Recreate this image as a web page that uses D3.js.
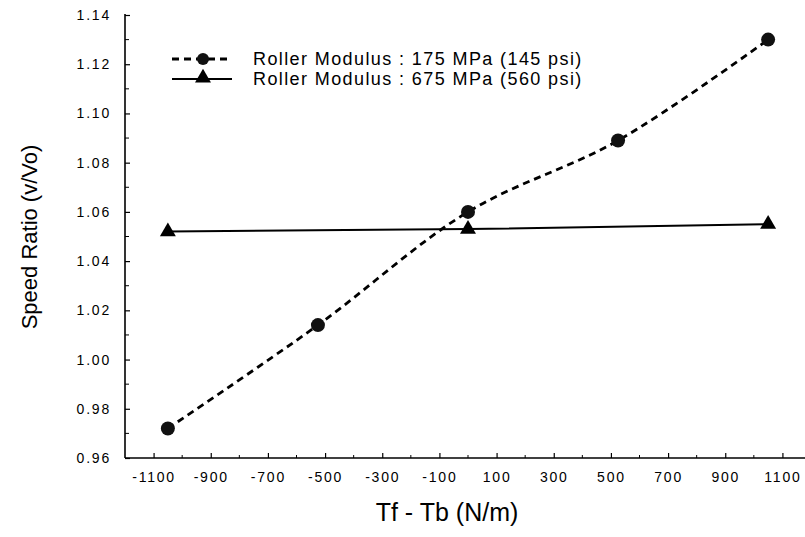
<!DOCTYPE html>
<html>
<head>
<meta charset="utf-8">
<script src="https://cdn.jsdelivr.net/npm/d3@7"></script>
<style>
  body { margin: 0; background: #fff; }
  svg { display: block; font-family: "Liberation Sans", Arial, sans-serif; }
  .tick text { font-size: 14px; fill: #000; letter-spacing: 1.8px; }
</style>
</head>
<body>
<svg id="chart" width="805" height="537"></svg>
<script>
// ---------- data ----------
const tensionDiff = [-1050, -525, 0, 525, 1050];
const ratioSoft = [0.972, 1.014, 1.060, 1.089, 1.130];      // 175 MPa roller
const tensionDiffStiff = [-1050, 0, 1050];
const ratioStiff = [1.052, 1.053, 1.055];                     // 675 MPa roller
const xTicks = [-1100, -900, -700, -500, -300, -100, 100, 300, 500, 700, 900, 1100];
const yTicks = [0.96, 0.98, 1.00, 1.02, 1.04, 1.06, 1.08, 1.10, 1.12, 1.14];
const legendLabels = [
  "Roller Modulus : 175 MPa (145 psi)",
  "Roller Modulus : 675 MPa (560 psi)"
];

// ---------- layout ----------
const svg = d3.select("#chart");
const x = d3.scaleLinear().domain([-1200, 1200]).range([125, 811]);
const y = d3.scaleLinear().domain([0.96, 1.14]).range([458, 15]);

// minor ticks
const g = svg.append("g");
const xMinor = d3.range(-1000, 1101, 200);
const yMinor = d3.range(0.97, 1.14, 0.02);

g.append("g").selectAll("line").data(xMinor).join("line")
  .attr("x1", d => x(d)).attr("x2", d => x(d))
  .attr("y1", 458).attr("y2", 455)
  .attr("stroke", "#000").attr("stroke-width", 1);
g.append("g").selectAll("line").data(yMinor).join("line")
  .attr("x1", 125).attr("x2", 129)
  .attr("y1", d => y(d)).attr("y2", d => y(d))
  .attr("stroke", "#000").attr("stroke-width", 1);

// axes
const xAxis = g.append("g").attr("transform", "translate(0,458)")
  .call(d3.axisBottom(x).tickValues(xTicks).tickFormat(d => String(d))
    .tickSize(-5).tickPadding(14).tickSizeOuter(0));
const yAxis = g.append("g").attr("transform", "translate(125,0)")
  .call(d3.axisLeft(y).tickValues(yTicks).tickFormat(d3.format(".2f"))
    .tickSize(-5).tickPadding(14).tickSizeOuter(0));
[xAxis, yAxis].forEach(a => {
  a.select(".domain").attr("stroke-width", 1.6);
  a.selectAll(".tick line").attr("stroke-width", 1.2);
});
// stretch domains to the full extent
xAxis.select(".domain").attr("d", `M125,0H805`);
yAxis.select(".domain").attr("d", `M0,14V458`);

// axis titles
svg.append("text")
  .attr("x", 447).attr("y", 521)
  .attr("text-anchor", "middle")
  .attr("font-size", 25)
  .text("Tf - Tb (N/m)");
svg.append("text")
  .attr("transform", "translate(37,237) rotate(-90)")
  .attr("text-anchor", "middle")
  .attr("font-size", 22)
  .text("Speed Ratio  (v/Vo)");

// series
const soft = tensionDiff.map((t, i) => [t, ratioSoft[i]]);
const stiff = tensionDiffStiff.map((t, i) => [t, ratioStiff[i]]);

svg.append("path")
  .datum(stiff)
  .attr("d", d3.line().x(d => x(d[0])).y(d => y(d[1])))
  .attr("fill", "none")
  .attr("stroke", "#000")
  .attr("stroke-width", 2);

svg.append("path")
  .datum(soft)
  .attr("d", d3.line().x(d => x(d[0])).y(d => y(d[1])).curve(d3.curveCatmullRom.alpha(0.5)))
  .attr("fill", "none")
  .attr("stroke", "#000")
  .attr("stroke-width", 2.8)
  .attr("stroke-dasharray", "7,5");

const tri = d3.symbol().type(d3.symbolTriangle).size(110);

svg.append("g").selectAll("path").data(stiff).join("path")
  .attr("transform", d => `translate(${x(d[0])},${y(d[1])})`)
  .attr("d", tri)
  .attr("fill", "#000");

svg.append("g").selectAll("circle").data(soft).join("circle")
  .attr("cx", d => x(d[0])).attr("cy", d => y(d[1]))
  .attr("r", 7)
  .attr("fill", "#111");

// legend
const legend = svg.append("g").attr("transform", "translate(172,0)");
const rows = [59, 79];
legend.append("line")
  .attr("x1", 0).attr("x2", 60).attr("y1", rows[0]).attr("y2", rows[0])
  .attr("stroke", "#000").attr("stroke-width", 2.8).attr("stroke-dasharray", "7,5");
legend.append("circle").attr("cx", 31).attr("cy", rows[0]).attr("r", 6).attr("fill", "#111");
legend.append("line")
  .attr("x1", 0).attr("x2", 60).attr("y1", rows[1]).attr("y2", rows[1])
  .attr("stroke", "#000").attr("stroke-width", 2);
legend.append("path").attr("transform", `translate(31,${rows[1] - 1})`).attr("d", tri).attr("fill", "#000");
legend.selectAll("text.lbl").data(legendLabels).join("text")
  .attr("class", "lbl")
  .attr("x", 81).attr("y", (d, i) => rows[i])
  .attr("dy", "0.36em")
  .attr("font-size", 18)
  .attr("letter-spacing", 1.4)
  .text(d => d);
</script>
</body>
</html>
